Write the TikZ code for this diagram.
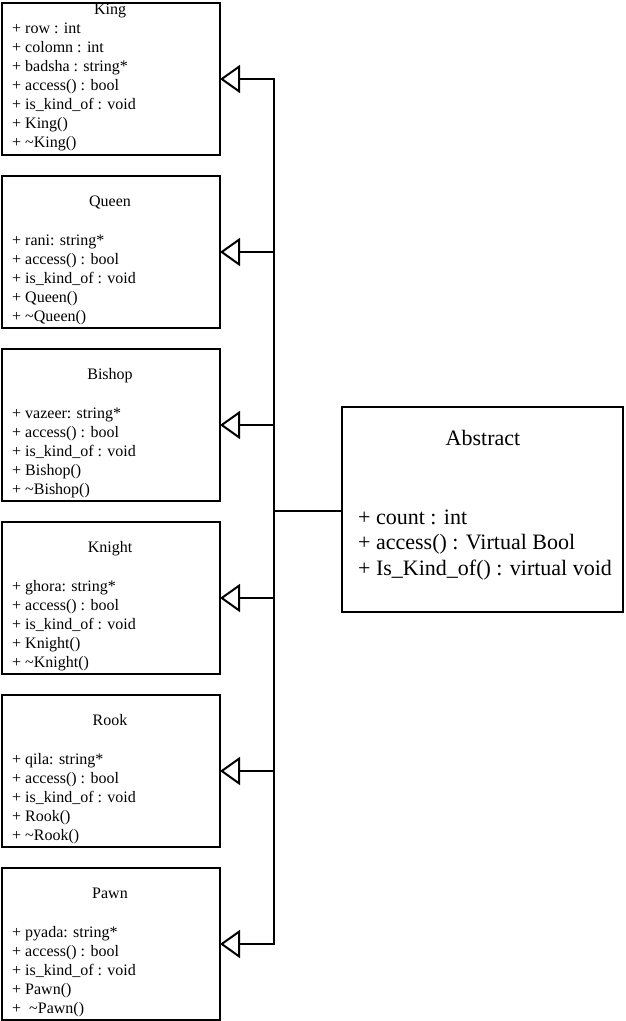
\documentclass[tikz,border=0pt]{standalone}
\usepackage{fontspec}
\setmainfont{Liberation Serif}
\usetikzlibrary{arrows.meta}
\newcommand\classrows[4]{%
  \foreach \r [count=\i from 0] in {#3}
    \node[txt] (#4-\i) at (12,{#1+#2+19*\i}) {\r};}
\begin{document}
\begin{tikzpicture}[x=1pt,y=-1pt,
  cls/.style={draw, line width=2pt, minimum width=218.5pt, minimum height=152pt,
    anchor=north west, inner sep=0pt, outer sep=0pt},
  txt/.style={inner sep=0pt, anchor=base west, font=\fontsize{16}{19}\selectfont},
  ttl/.style={inner sep=0pt, anchor=base, font=\fontsize{16}{19}\selectfont},
  atxt/.style={inner sep=0pt, anchor=base west, font=\fontsize{22}{26}\selectfont},
  conn/.style={line width=2pt},
  inh/.style={conn, -{Triangle[open, length=20pt, width=28pt, line width=2pt]}}]
\useasboundingbox (0,0) rectangle (625,1021);

% class boxes
\node[cls] (king)   at (1.5,3)   {};
\node[cls] (queen)  at (1.5,176) {};
\node[cls] (bishop) at (1.5,349) {};
\node[cls] (knight) at (1.5,522) {};
\node[cls] (rook)   at (1.5,695) {};
\node[cls] (pawn)   at (1.5,868) {};

% titles
\node[ttl] (kingT)   at (110,14)    {King};
\node[ttl] (queenT)  at (110,206.5) {Queen};
\node[ttl] (bishopT) at (110,379.5) {Bishop};
\node[ttl] (knightT) at (110,552.5) {Knight};
\node[ttl] (rookT)   at (110,725.5) {Rook};
\node[ttl] (pawnT)   at (110,898.5) {Pawn};

% rows
\classrows{3}{30.5}{+ row : int,+ colomn : int,+ badsha : string*,+ access() : bool,+ is\_kind\_of : void,+ King(),+ \textasciitilde King()}{kr}
\classrows{176}{69}{+ rani: string*,+ access() : bool,+ is\_kind\_of : void,+ Queen(),+ \textasciitilde Queen()}{qr}
\classrows{349}{69}{+ vazeer: string*,+ access() : bool,+ is\_kind\_of : void,+ Bishop(),+ \textasciitilde Bishop()}{br}
\classrows{522}{69}{+ ghora: string*,+ access() : bool,+ is\_kind\_of : void,+ Knight(),+ \textasciitilde Knight()}{nr}
\classrows{695}{69}{+ qila: string*,+ access() : bool,+ is\_kind\_of : void,+ Rook(),+ \textasciitilde Rook()}{rr}
\classrows{868}{69}{+ pyada: string*,+ access() : bool,+ is\_kind\_of : void,+ Pawn(),+\ \ \textasciitilde Pawn()}{pr}

% abstract class
\node[draw, line width=2pt, minimum width=281pt, minimum height=205pt,
  anchor=north west, inner sep=0pt, outer sep=0pt] (abs) at (342,407) {};
\node[inner sep=0pt, anchor=base, font=\fontsize{22}{26}\selectfont] (absT) at (483,445) {Abstract};
\node[atxt] (ar0) at (358,524)   {+ count : int};
\node[atxt] (ar1) at (358,549.5) {+ access() : Virtual Bool};
\node[atxt] (ar2) at (358,575)   {+ Is\_Kind\_of() : virtual void};

% junctions on the trunk
\coordinate (jK) at (274,79);
\coordinate (jQ) at (274,252);
\coordinate (jB) at (274,425);
\coordinate (jN) at (274,598);
\coordinate (jR) at (274,771);
\coordinate (jP) at (274,944);
\coordinate (jA) at (274,511);

\draw[conn, line cap=rect] (jK) -- (jP);
\draw[conn] (jA) -- (jA -| abs.west);
\draw[inh] (jK) -- (king.east);
\draw[inh] (jQ) -- (queen.east);
\draw[inh] (jB) -- (bishop.east);
\draw[inh] (jN) -- (knight.east);
\draw[inh] (jR) -- (rook.east);
\draw[inh] (jP) -- (pawn.east);
\end{tikzpicture}
\end{document}
